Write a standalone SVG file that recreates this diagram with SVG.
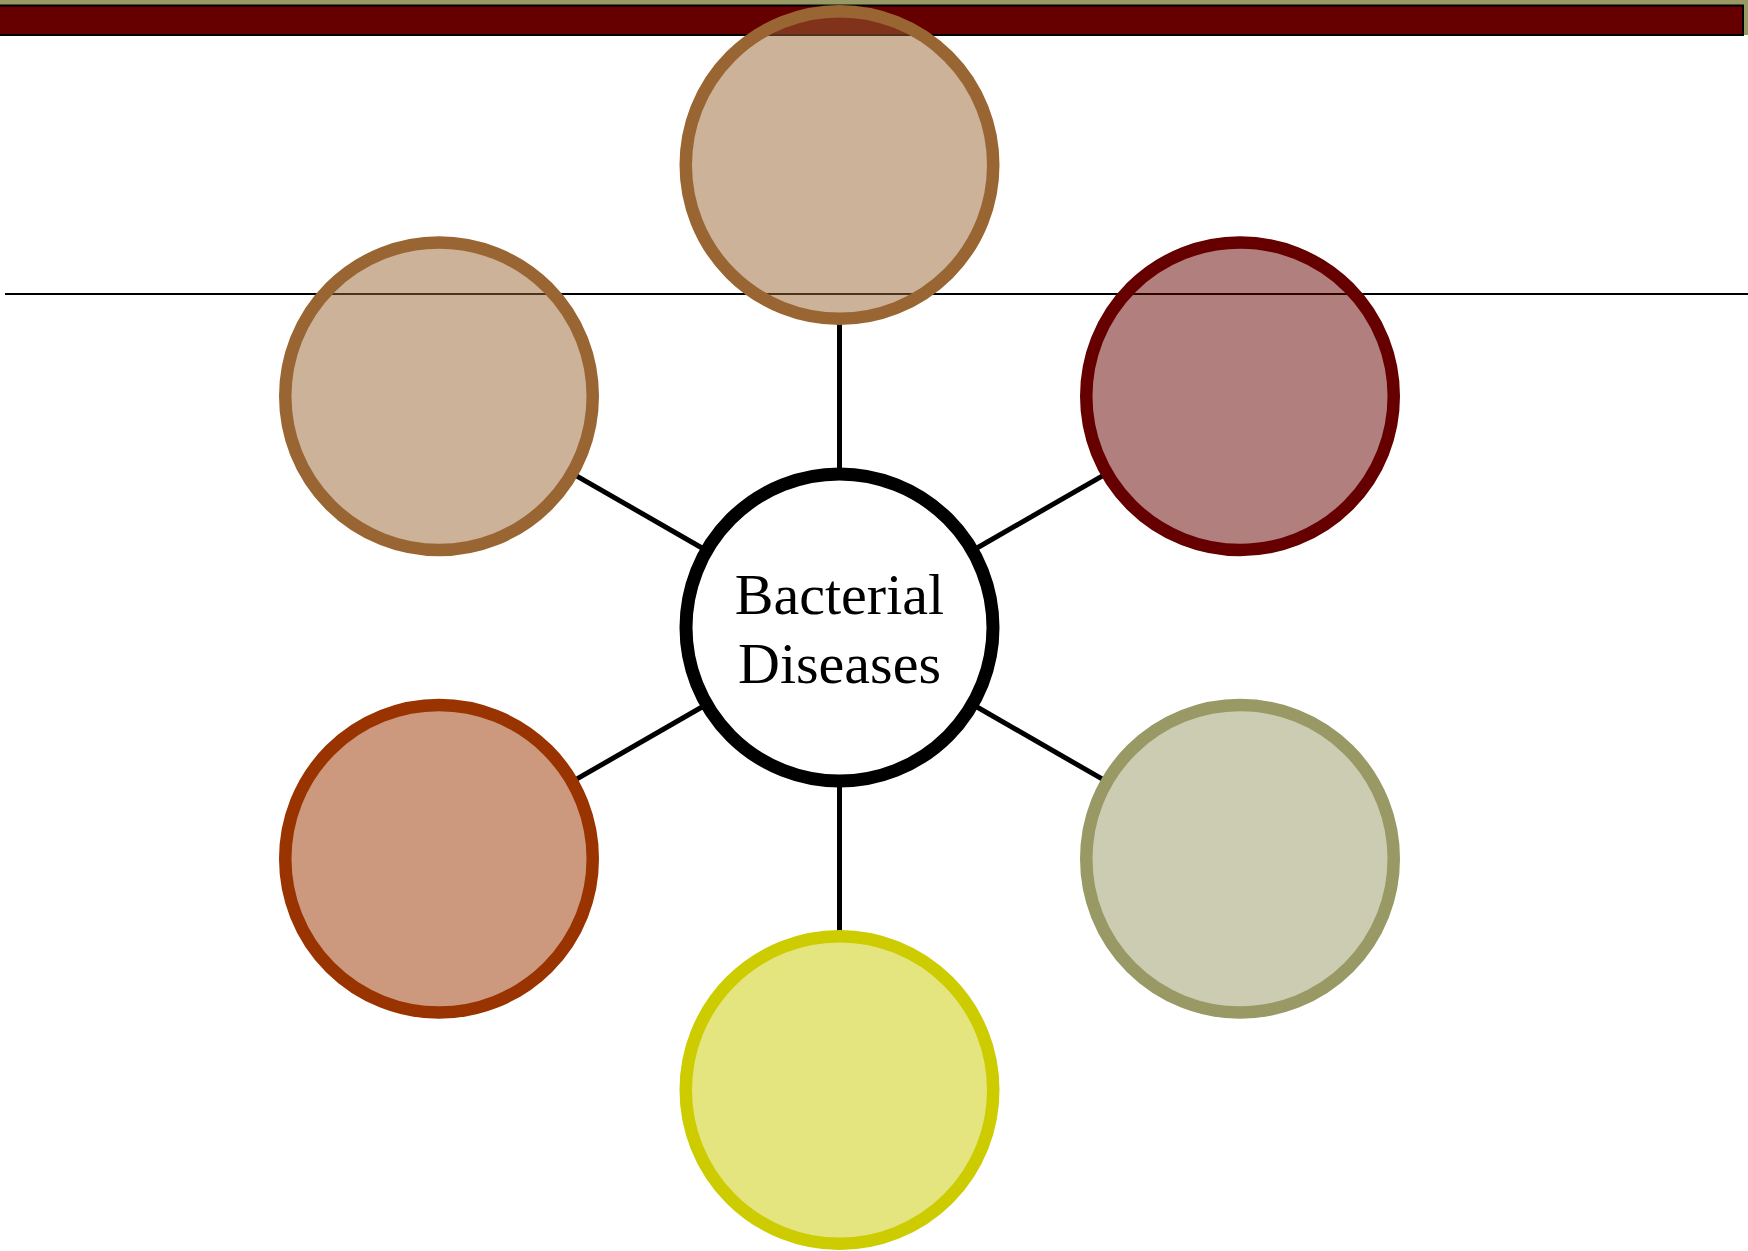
<svg xmlns="http://www.w3.org/2000/svg" width="1748" height="1251" viewBox="0 0 1748 1251">
<style>
.sat{stroke-width:12.5}
.conn{stroke:#000;stroke-width:5;fill:none}
.lbl{font-family:"Liberation Serif","Times New Roman",serif;font-size:58px;fill:#000;text-anchor:middle}
</style>
<rect x="0" y="0" width="1748" height="1251" fill="#fff"/>
<g id="header">
<rect x="0" y="0" width="1748" height="35" fill="#999966"/>
<rect x="-3" y="5.5" width="1746" height="29.5" fill="#660000" stroke="#000" stroke-width="2"/>
<line x1="5" y1="294" x2="1748" y2="294" stroke="#000" stroke-width="2"/>
</g>
<g id="connectors">
<line class="conn" x1="839.5" y1="324" x2="839.5" y2="468.5"/>
<line class="conn" x1="839.5" y1="786.5" x2="839.5" y2="931"/>
<line class="conn" x1="977" y1="548" x2="1102.5" y2="475.8"/>
<line class="conn" x1="977" y1="707" x2="1102.5" y2="779.2"/>
<line class="conn" x1="702" y1="548" x2="576.5" y2="475.8"/>
<line class="conn" x1="702" y1="707" x2="576.5" y2="779.2"/>
</g>
<g id="node-top"><circle class="sat" cx="839.5" cy="165" r="153.75" fill="#996633" fill-opacity="0.5" stroke="#996633"/></g>
<g id="node-upper-right"><circle class="sat" cx="1240" cy="396.25" r="153.75" fill="#660000" fill-opacity="0.5" stroke="#660000"/></g>
<g id="node-lower-right"><circle class="sat" cx="1240" cy="858.75" r="153.75" fill="#999966" fill-opacity="0.5" stroke="#999966"/></g>
<g id="node-bottom"><circle class="sat" cx="839.5" cy="1090" r="153.75" fill="#cccc00" fill-opacity="0.5" stroke="#cccc00"/></g>
<g id="node-lower-left"><circle class="sat" cx="439" cy="858.75" r="153.75" fill="#993300" fill-opacity="0.5" stroke="#993300"/></g>
<g id="node-upper-left"><circle class="sat" cx="439" cy="396.25" r="153.75" fill="#996633" fill-opacity="0.5" stroke="#996633"/></g>
<g id="node-center">
<circle cx="839.5" cy="627.5" r="153.5" fill="#fff" stroke="#000" stroke-width="13"/>
<text class="lbl" x="839.5" y="614">Bacterial</text>
<text class="lbl" x="839.5" y="683">Diseases</text>
</g>
</svg>
